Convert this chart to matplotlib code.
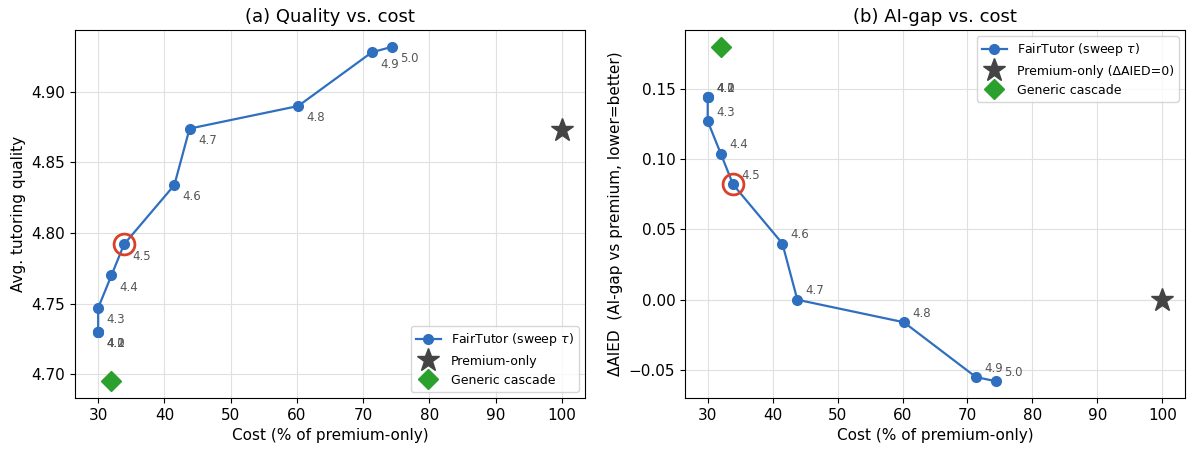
import numpy as np
import matplotlib
matplotlib.use('Agg')
import matplotlib.pyplot as plt

# sweep thresholds tau and the resulting points
taus = ['4.0', '4.1', '4.2', '4.3', '4.4', '4.5', '4.6', '4.7', '4.8', '4.9', '5.0']
cost = [30.0, 30.0, 30.0, 30.0, 32.0, 33.9, 41.5, 43.8, 60.2, 71.3, 74.4]
quality = [4.730, 4.730, 4.730, 4.747, 4.770, 4.792, 4.834, 4.874, 4.890, 4.928, 4.932]
gap = [0.144, 0.144, 0.144, 0.127, 0.104, 0.082, 0.040, 0.000, -0.016, -0.055, -0.058]
chosen = '4.5'  # highlighted operating point

premium_cost, premium_quality, premium_gap = 100.0, 4.873, 0.0
generic_cost, generic_quality, generic_gap = 32.0, 4.695, 0.180

blue = '#2f6fbf'
star_col = '#444444'
green = '#2ca02c'
red = '#d9412b'

W, H = 1196, 450
fig = plt.figure(figsize=(W/100, H/100), dpi=100)
ax1 = fig.add_axes([75/W, 1-398/H, 510/W, 368/H])
ax2 = fig.add_axes([685/W, 1-398/H, 500/W, 368/H])

k = taus.index(chosen)

# (a) quality vs cost
ax1.plot(cost, quality, '-o', color=blue, lw=1.6, ms=7, label='FairTutor (sweep $\\tau$)', zorder=3)
ax1.plot(premium_cost, premium_quality, '*', color=star_col, ms=17, ls='none', label='Premium-only', zorder=3)
ax1.plot(generic_cost, generic_quality, 'D', color=green, ms=10, ls='none', label='Generic cascade', zorder=3)
ax1.plot(cost[k], quality[k], 'o', mfc='none', mec=red, mew=2, ms=15, zorder=4)
for t, c, q in zip(taus, cost, quality):
    ax1.annotate(t, (c, q), xytext=(6, -11), textcoords='offset points', fontsize=8.5, color='#555555')
ax1.set_title('(a) Quality vs. cost', fontsize=13)
ax1.set_xlabel('Cost (% of premium-only)', fontsize=11)
ax1.set_ylabel('Avg. tutoring quality', fontsize=11)
ax1.set_xticks(np.arange(30, 101, 10))
ax1.grid(True, color='#e0e0e0', lw=0.8)
ax1.tick_params(labelsize=11)
ax1.legend(loc='lower right', fontsize=9)

# (b) AI-gap vs cost
ax2.axhline(0, color='#999999', lw=0.8, ls=':', zorder=1)
ax2.plot(cost, gap, '-o', color=blue, lw=1.6, ms=7, label='FairTutor (sweep $\\tau$)', zorder=3)
ax2.plot(premium_cost, premium_gap, '*', color=star_col, ms=17, ls='none', label='Premium-only (ΔAIED=0)', zorder=3)
ax2.plot(generic_cost, generic_gap, 'D', color=green, ms=10, ls='none', label='Generic cascade', zorder=3)
ax2.plot(cost[k], gap[k], 'o', mfc='none', mec=red, mew=2, ms=15, zorder=4)
for t, c, g in zip(taus, cost, gap):
    ax2.annotate(t, (c, g), xytext=(6, 4), textcoords='offset points', fontsize=8.5, color='#555555')
ax2.set_title('(b) AI-gap vs. cost', fontsize=13)
ax2.set_xlabel('Cost (% of premium-only)', fontsize=11)
ax2.set_ylabel('ΔAIED  (AI-gap vs premium, lower=better)', fontsize=11)
ax2.set_xticks(np.arange(30, 101, 10))
ax2.grid(True, color='#e0e0e0', lw=0.8)
ax2.tick_params(labelsize=11)
ax2.legend(loc='upper right', fontsize=9)

plt.savefig('out.png')
